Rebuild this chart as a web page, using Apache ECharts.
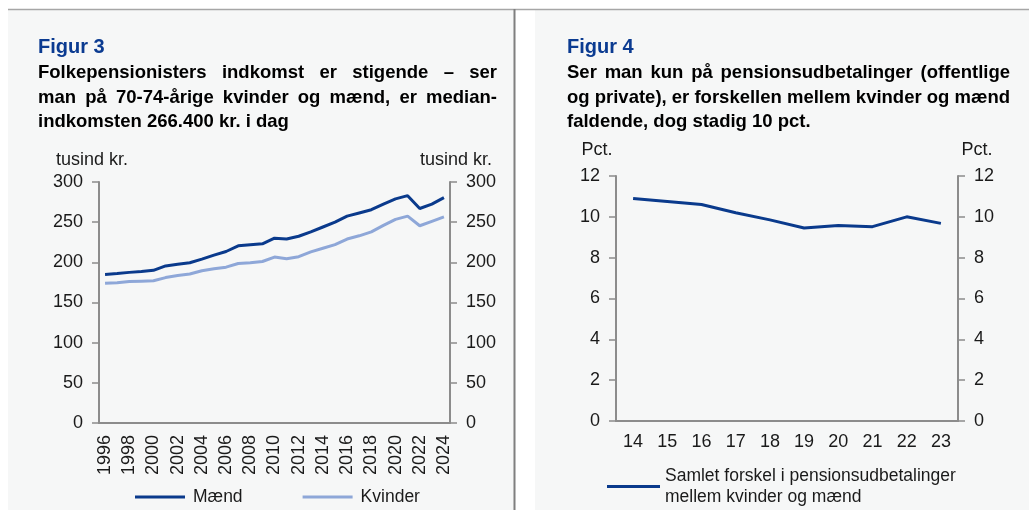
<!DOCTYPE html>
<html>
<head>
<meta charset="utf-8">
<script src="https://cdn.jsdelivr.net/npm/echarts@6/dist/echarts.min.js"></script>
<style>
  html, body { margin: 0; padding: 0; background: #fff; }
  #chart { width: 1029px; height: 510px; }
</style>
</head>
<body>
<div id="chart"></div>
<script>
// figur 3 - indkomst, tusind kr.
const years = ['1996', '1997', '1998', '1999', '2000', '2001', '2002', '2003', '2004', '2005',
  '2006', '2007', '2008', '2009', '2010', '2011', '2012', '2013', '2014', '2015',
  '2016', '2017', '2018', '2019', '2020', '2021', '2022', '2023', '2024'];
const maend = [185, 186, 187.5, 188.5, 190, 195.5, 197.5, 199.5, 204, 209,
  213.5, 220.5, 222, 223, 230, 229, 232.5, 238, 244, 250,
  257.5, 261.5, 265.5, 272.5, 279, 283, 267, 272.5, 280.5];
const kvinder = [174, 174.5, 176, 176.5, 177, 181, 183.5, 185.5, 189.5, 192,
  194, 198.5, 199.5, 201, 206.5, 204.5, 207, 213, 217.5, 222,
  229, 233, 238, 246, 253.5, 257.5, 245.5, 251, 256.5];

// figur 4 - forskel i pct.
const aar = ['14', '15', '16', '17', '18', '19', '20', '21', '22', '23'];
const forskel = [10.9, 10.75, 10.6, 10.2, 9.85, 9.45, 9.57, 9.52, 10.0, 9.68];

const title3 = ['Folkepensionisters indkomst er stigende – ser',
  'man på 70-74-årige kvinder og mænd, er median-',
  'indkomsten 266.400 kr. i dag'];
const title4 = ['Ser man kun på pensionsudbetalinger (offentlige',
  'og private), er forskellen mellem kvinder og mænd',
  'faldende, dog stadig 10 pct.'];

const FONT = '"Liberation Sans", Arial, sans-serif';
const DARK = '#0a3a8c';
const LIGHT = '#8ea7d8';
const AXIS = '#8c8c8c';
const TXT = '#1a1a1a';
const FS = 18;

// justify the title lines word by word, like the report does
const ctx = document.createElement('canvas').getContext('2d');
function titleLines(lines, x, y0, width, size) {
  ctx.font = 'bold ' + size + 'px ' + FONT;
  const out = [];
  lines.forEach((line, li) => {
    const y = y0 + li * 24.5;
    const last = li === lines.length - 1;
    const words = line.split(' ');
    if (last) {
      out.push({ type: 'text', x: x, y: y, style: { text: line, fontSize: size, fontWeight: 'bold', fontFamily: FONT, fill: '#000', verticalAlign: 'middle' } });
      return;
    }
    const ws = words.map(w => ctx.measureText(w).width);
    const gap = (width - ws.reduce((a, b) => a + b, 0)) / (words.length - 1);
    let cx = x;
    words.forEach((w, i) => {
      out.push({ type: 'text', x: cx, y: y, style: { text: w, fontSize: size, fontWeight: 'bold', fontFamily: FONT, fill: '#000', verticalAlign: 'middle' } });
      cx += ws[i] + gap;
    });
  });
  return out;
}

function label(text, x, y, align) {
  return { type: 'text', x: x, y: y, style: { text: text, fontSize: FS, fontFamily: FONT, fill: TXT, align: align || 'center', verticalAlign: 'middle' } };
}

function yAx(grid, pos, max, interval) {
  return {
    type: 'value', gridIndex: grid, position: pos, min: 0, max: max, interval: interval,
    axisLine: { show: true, lineStyle: { color: AXIS, width: 2 } },
    axisTick: { show: true, length: 7, lineStyle: { color: AXIS, width: 1.5 } },
    axisLabel: { color: TXT, fontSize: FS, fontFamily: FONT, margin: 16 },
    splitLine: { show: false }
  };
}

const myChart = echarts.init(document.getElementById('chart'));

const option = {
  backgroundColor: '#fff',
  animation: false,
  textStyle: { fontFamily: FONT },
  graphic: [
    { type: 'rect', z: -10, shape: { x: 8, y: 10, width: 506, height: 500 }, style: { fill: '#f6f7f7' } },
    { type: 'rect', z: -10, shape: { x: 535, y: 10, width: 494, height: 500 }, style: { fill: '#f6f7f7' } },
    { type: 'line', z: -5, shape: { x1: 8, y1: 9.5, x2: 1029, y2: 9.5 }, style: { stroke: '#a6a6a6', lineWidth: 1.5 } },
    { type: 'line', z: -5, shape: { x1: 514.5, y1: 9, x2: 514.5, y2: 510 }, style: { stroke: '#7f7f7f', lineWidth: 2 } },
    { type: 'text', x: 38, y: 47, style: { text: 'Figur 3', fontSize: 20, fontWeight: 'bold', fontFamily: FONT, fill: '#0b3b91', verticalAlign: 'middle' } },
    { type: 'text', x: 567, y: 47, style: { text: 'Figur 4', fontSize: 20, fontWeight: 'bold', fontFamily: FONT, fill: '#0b3b91', verticalAlign: 'middle' } },
    ...titleLines(title3, 38, 73, 459, 18.5),
    ...titleLines(title4, 567, 73, 443, 18.5),
    label('tusind kr.', 92, 160),
    label('tusind kr.', 456, 160),
    label('Pct.', 597, 150),
    label('Pct.', 977, 150)
  ],
  grid: [
    { left: 99, top: 182, width: 351, height: 241 },
    { left: 616, top: 176, width: 342, height: 245 }
  ],
  legend: [
    {
      data: ['Mænd', 'Kvinder'], left: 135, top: 488, padding: 0,
      icon: 'rect', itemWidth: 50, itemHeight: 3, itemGap: 60,
      textStyle: { color: TXT, fontSize: 17.5, fontFamily: FONT, padding: [0, 0, 0, 3] }
    },
    {
      data: ['Samlet forskel i pensionsudbetalinger\nmellem kvinder og mænd'], left: 607, top: 455, padding: 0,
      icon: 'rect', itemWidth: 53, itemHeight: 3,
      textStyle: { color: TXT, fontSize: 17.5, fontFamily: FONT, lineHeight: 21, padding: [21, 0, 0, 0] }
    }
  ],
  xAxis: [
    {
      type: 'category', gridIndex: 0, data: years, boundaryGap: true,
      axisLine: { lineStyle: { color: AXIS, width: 2 } },
      axisTick: { interval: 0, length: 5, lineStyle: { color: AXIS, width: 1.5 } },
      axisLabel: { interval: 1, rotate: 90, color: TXT, fontSize: FS, fontFamily: FONT, margin: 12 }
    },
    {
      type: 'category', gridIndex: 1, data: aar, boundaryGap: true,
      axisLine: { lineStyle: { color: AXIS, width: 2 } },
      axisTick: { interval: 0, length: 5, lineStyle: { color: AXIS, width: 1.5 } },
      axisLabel: { interval: 0, color: TXT, fontSize: FS, fontFamily: FONT, margin: 12 }
    }
  ],
  yAxis: [
    yAx(0, 'left', 300, 50),
    yAx(0, 'right', 300, 50),
    yAx(1, 'left', 12, 2),
    yAx(1, 'right', 12, 2)
  ],
  series: [
    { name: 'Mænd', type: 'line', xAxisIndex: 0, yAxisIndex: 0, data: maend, showSymbol: false, lineStyle: { color: DARK, width: 3 }, itemStyle: { color: DARK } },
    { name: 'Kvinder', type: 'line', xAxisIndex: 0, yAxisIndex: 0, data: kvinder, showSymbol: false, lineStyle: { color: LIGHT, width: 3 }, itemStyle: { color: LIGHT } },
    { name: 'Samlet forskel i pensionsudbetalinger\nmellem kvinder og mænd', type: 'line', xAxisIndex: 1, yAxisIndex: 2, data: forskel, showSymbol: false, lineStyle: { color: DARK, width: 3 }, itemStyle: { color: DARK } }
  ]
};

myChart.setOption(option);
</script>
</body>
</html>
